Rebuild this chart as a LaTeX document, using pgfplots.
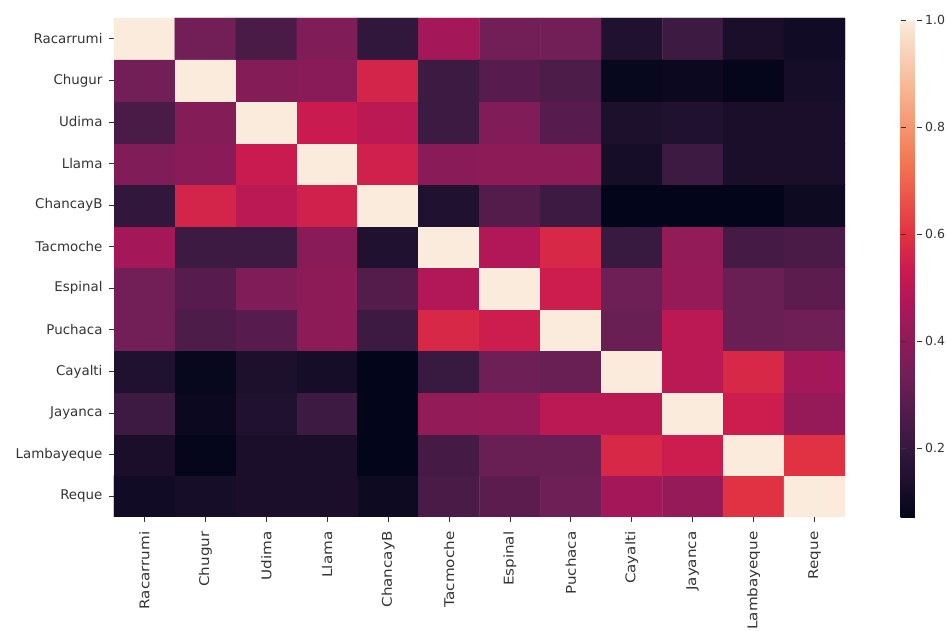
\documentclass[border=0pt]{standalone}
\usepackage{fontspec}
\setmainfont{DejaVu Sans}
\newfontfamily\xlabfont[FakeStretch=1.13]{DejaVu Sans}
\usepackage{pgfplots}
\pgfplotsset{compat=1.18}
\definecolor{tickc}{HTML}{333333}
\begin{document}
\begin{tikzpicture}
\useasboundingbox (-114pt,-114pt) rectangle (833pt,517pt);
\begin{axis}[
  at={(0,0)}, anchor=south west,
  scale only axis, width=731pt, height=499pt,
  xmin=-0.5, xmax=11.5, ymin=-0.5, ymax=11.5,
  enlargelimits=false,
  xtick={0,...,11}, ytick={0,...,11},
  xticklabels={Racarrumi,Chugur,Udima,Llama,ChancayB,Tacmoche,Espinal,Puchaca,Cayalti,Jayanca,Lambayeque,Reque},
  yticklabels={Reque,Lambayeque,Jayanca,Cayalti,Puchaca,Espinal,Tacmoche,ChancayB,Llama,Udima,Chugur,Racarrumi},
  tick label style={text=tickc},
  xticklabel style={rotate=90, anchor=east, yshift=-0pt, xshift=-6pt, font=\xlabfont\fontsize{13.4}{14}\selectfont},
  yticklabel style={xshift=-3pt, font=\fontsize{13.4}{14}\selectfont},
  axis line style={draw=none},
  tick align=outside, major tick length=5pt,
  tick style={draw=tickc, line width=0.8pt},
  xtick pos=left, ytick pos=left,
  colormap={rocket}{rgb255(0)=(3,5,26) rgb255(2)=(53,25,62) rgb255(4)=(112,31,87) rgb255(6)=(173,23,89) rgb255(7)=(203,27,79) rgb255(8)=(225,51,66) rgb255(10)=(243,118,81) rgb255(12)=(246,180,143) rgb255(14)=(250,235,221)},
  point meta min=0.07, point meta max=1,
  colorbar,
  colorbar style={
    at={(parent axis.north east)}, anchor=north west, xshift=47pt, yshift=-2pt,
    scale only axis, width=21pt, height=498pt,
    ytick={0.2,0.4,0.6,0.8,1.0},
    axis line style={draw=none},
    major tick length=5pt,
    tick style={draw=tickc, line width=0.8pt},
    yticklabel style={font=\fontsize{12.5}{14}\selectfont, text=tickc,
      /pgf/number format/.cd, fixed, fixed zerofill, precision=1, assume math mode=true},
  },
]
\addplot[matrix plot*, mesh/cols=12, mesh/rows=12, point meta=explicit] table[meta=c] {
x y c
0 0 0.11
1 0 0.12
2 0 0.13
3 0 0.13
4 0 0.10
5 0 0.25
6 0 0.29
7 0 0.33
8 0 0.45
9 0 0.42
10 0 0.60
11 0 1.00
0 1 0.13
1 1 0.075
2 1 0.13
3 1 0.13
4 1 0.07
5 1 0.24
6 1 0.32
7 1 0.32
8 1 0.57
9 1 0.54
10 1 1.00
11 1 0.60
0 2 0.22
1 2 0.09
2 2 0.15
3 2 0.22
4 2 0.07
5 2 0.41
6 2 0.42
7 2 0.50
8 2 0.50
9 2 1.00
10 2 0.54
11 2 0.42
0 3 0.15
1 3 0.08
2 3 0.14
3 3 0.12
4 3 0.07
5 3 0.21
6 3 0.33
7 3 0.32
8 3 1.00
9 3 0.50
10 3 0.57
11 3 0.45
0 4 0.34
1 4 0.26
2 4 0.28
3 4 0.40
4 4 0.22
5 4 0.57
6 4 0.54
7 4 1.00
8 4 0.32
9 4 0.50
10 4 0.32
11 4 0.33
0 5 0.34
1 5 0.28
2 5 0.37
3 5 0.40
4 5 0.27
5 5 0.48
6 5 1.00
7 5 0.54
8 5 0.33
9 5 0.42
10 5 0.32
11 5 0.29
0 6 0.45
1 6 0.22
2 6 0.22
3 6 0.39
4 6 0.15
5 6 1.00
6 6 0.48
7 6 0.57
8 6 0.21
9 6 0.41
10 6 0.24
11 6 0.25
0 7 0.19
1 7 0.56
2 7 0.50
3 7 0.55
4 7 1.00
5 7 0.15
6 7 0.27
7 7 0.22
8 7 0.07
9 7 0.07
10 7 0.07
11 7 0.10
0 8 0.37
1 8 0.39
2 8 0.53
3 8 1.00
4 8 0.55
5 8 0.39
6 8 0.40
7 8 0.40
8 8 0.12
9 8 0.22
10 8 0.13
11 8 0.13
0 9 0.25
1 9 0.38
2 9 1.00
3 9 0.53
4 9 0.50
5 9 0.22
6 9 0.37
7 9 0.28
8 9 0.14
9 9 0.15
10 9 0.13
11 9 0.13
0 10 0.34
1 10 1.00
2 10 0.38
3 10 0.39
4 10 0.56
5 10 0.22
6 10 0.28
7 10 0.26
8 10 0.08
9 10 0.09
10 10 0.075
11 10 0.12
0 11 1.00
1 11 0.34
2 11 0.25
3 11 0.37
4 11 0.19
5 11 0.45
6 11 0.34
7 11 0.34
8 11 0.15
9 11 0.22
10 11 0.13
11 11 0.11
};
\end{axis}
\end{tikzpicture}
\end{document}
